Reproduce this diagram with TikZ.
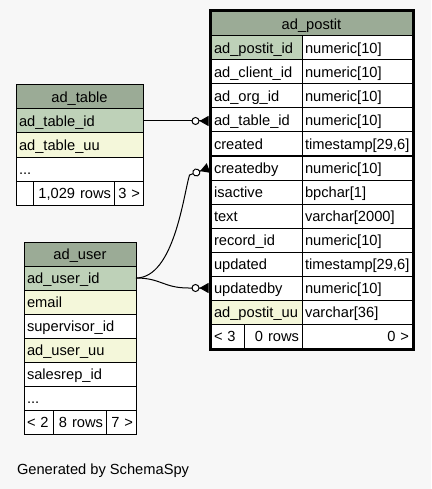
\documentclass[tikz,border=0pt]{standalone}
\usepackage{fontspec}
\setmainfont{Liberation Sans}
\usepackage{tikz}
\usetikzlibrary{positioning,fit,calc,arrows.meta}
\definecolor{s_head}{HTML}{9BAB96}
\definecolor{s_key}{HTML}{BED1B8}
\definecolor{s_idx}{HTML}{F4F7DA}
\definecolor{s_back}{HTML}{F7F7F7}
\hyphenpenalty=10000

\begin{document}
\begin{tikzpicture}[
    x=1pt, y=-1pt,
    node distance=0pt,
    font=\fontsize{14.67}{17}\selectfont,
    every node/.style={outer sep=0pt},
    cell/.style={draw=black, line width=1pt, fill=white, minimum height=24pt,
        inner ysep=0pt, inner xsep=3pt, text height=10.5pt, text depth=0pt, align=left},
    head/.style={fill=s_head, align=center},
    keyrow/.style={fill=s_key},
    idxrow/.style={fill=s_idx},
    fname/.style={cell, minimum width=91pt, text width=85pt},
    ftype/.style={cell, minimum width=110pt, text width=104pt},
    tcell/.style={cell, minimum width=127pt, text width=121pt},
    ucell/.style={cell, minimum width=112pt, text width=106pt},
    rel/.style={draw=black, line width=1pt,
        -{Circle[open, fill=white, length=8pt, width=8pt] Triangle[reversed, length=9pt, width=10pt]}}
]
    \path[use as bounding box, fill=s_back] (0,0) rectangle (431,489);

    % ad_postit
    \node[cell, head, minimum width=201pt, text width=195pt, anchor=north west] (phead) at (211,12) {ad\_postit};
    \node[fname, keyrow] (pn1) [below right = of phead.south west] {ad\_postit\_id};
    \node[ftype] (pt1) [right = of pn1] {numeric[10]};
    \node[fname] (pn2) [below = of pn1] {ad\_client\_id};
    \node[ftype] (pt2) [right = of pn2] {numeric[10]};
    \node[fname] (pn3) [below = of pn2] {ad\_org\_id};
    \node[ftype] (pt3) [right = of pn3] {numeric[10]};
    \node[fname] (pn4) [below = of pn3] {ad\_table\_id};
    \node[ftype] (pt4) [right = of pn4] {numeric[10]};
    \node[fname] (pn5) [below = of pn4] {created};
    \node[ftype] (pt5) [right = of pn5] {timestamp[29,6]};
    \node[fname] (pn6) [below = of pn5] {createdby};
    \node[ftype] (pt6) [right = of pn6] {numeric[10]};
    \node[fname] (pn7) [below = of pn6] {isactive};
    \node[ftype] (pt7) [right = of pn7] {bpchar[1]};
    \node[fname] (pn8) [below = of pn7] {text};
    \node[ftype] (pt8) [right = of pn8] {varchar[2000]};
    \node[fname] (pn9) [below = of pn8] {record\_id};
    \node[ftype] (pt9) [right = of pn9] {numeric[10]};
    \node[fname] (pn10) [below = of pn9] {updated};
    \node[ftype] (pt10) [right = of pn10] {timestamp[29,6]};
    \node[fname] (pn11) [below = of pn10] {updatedby};
    \node[ftype] (pt11) [right = of pn11] {numeric[10]};
    \node[fname, idxrow] (pn12) [below = of pn11] {ad\_postit\_uu};
    \node[ftype] (pt12) [right = of pn12] {varchar[36]};
    \node[cell, minimum width=33pt, text width=27pt] (pf1) [below right = of pn12.south west] {< 3};
    \node[cell, minimum width=58pt, text width=52pt, align=right] (pf2) [right = of pf1] {0 rows};
    \node[ftype, align=right] (pf3) [right = of pf2] {0 >};
    \node[fit=(phead)(pf3), draw, line width=3pt, inner sep=1pt, outer sep=1.5pt] (pframe) {};

    % ad_table
    \node[tcell, head, anchor=north west] (thead) at (16,85) {ad\_table};
    \node[tcell, keyrow] (tr1) [below = of thead] {ad\_table\_id};
    \node[tcell, idxrow] (tr2) [below = of tr1] {ad\_table\_uu};
    \node[tcell] (tr3) [below = of tr2] {...};
    \node[cell, minimum width=17pt, text width=11pt] (tf1) [below right = of tr3.south west] {};
    \node[cell, minimum width=81pt, text width=75pt, align=right] (tf2) [right = of tf1] {1,029 rows};
    \node[cell, minimum width=29pt, text width=23pt, align=right] (tf3) [right = of tf2] {3 >};

    % ad_user
    \node[ucell, head, anchor=north west] (uhead) at (24,242) {ad\_user};
    \node[ucell, keyrow] (ur1) [below = of uhead] {ad\_user\_id};
    \node[ucell, idxrow] (ur2) [below = of ur1] {email};
    \node[ucell] (ur3) [below = of ur2] {supervisor\_id};
    \node[ucell, idxrow] (ur4) [below = of ur3] {ad\_user\_uu};
    \node[ucell] (ur5) [below = of ur4] {salesrep\_id};
    \node[ucell] (ur6) [below = of ur5] {...};
    \node[cell, minimum width=29pt, text width=23pt] (uf1) [below right = of ur6.south west] {< 2};
    \node[cell, minimum width=53pt, text width=47pt, align=right] (uf2) [right = of uf1] {8 rows};
    \node[cell, minimum width=30pt, text width=24pt, align=right] (uf3) [right = of uf2] {7 >};

    % relations
    \draw[rel] (tr1.east) -- (tr1.east -| pframe.west);
    \draw[rel] (ur1.east) .. controls +(38,0) and +(-6,20) .. ($(pframe.west |- pn6)+(-19,7)$)
        -- (pframe.west |- pn6);
    \draw[rel] (ur1.east) .. controls +(25,0) and +(-25,0) .. ($(pframe.west |- pn11)+(-20,0)$)
        -- (pframe.west |- pn11);

    \node[inner sep=0pt, anchor=base west] (gen) at (17,474) {Generated by SchemaSpy};
\end{tikzpicture}
\end{document}
